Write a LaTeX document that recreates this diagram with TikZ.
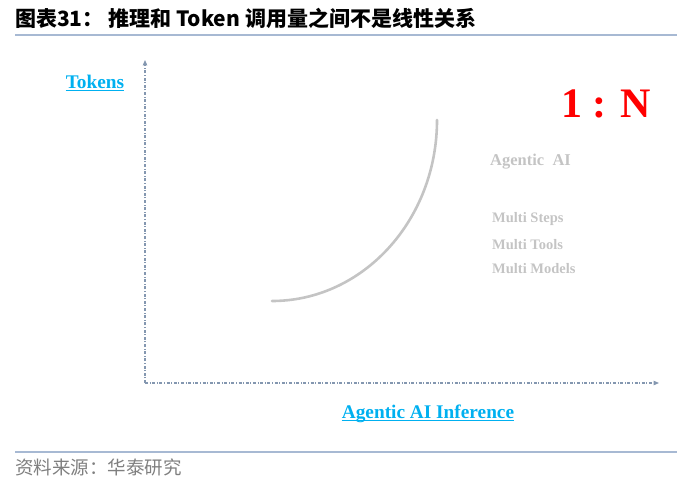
\documentclass[tikz,border=0pt]{standalone}
\usepackage{fontspec}
\setmainfont{Liberation Serif}
\newfontfamily\cjk{Noto Sans CJK SC}
\usepackage{xcolor}
\usetikzlibrary{arrows.meta}
\definecolor{rulebl}{HTML}{A7B9D3}
\definecolor{axisbl}{HTML}{8497B0}
\definecolor{labcyan}{HTML}{00B0F0}
\definecolor{softgray}{HTML}{C4C4C4}
\definecolor{srcgray}{HTML}{7F7F7F}
\tikzset{
  axisline/.style={axisbl,line width=1.1pt,dash pattern=on 3pt off 1.6pt on 1pt off 1.6pt,
    -{Triangle[width=4.5pt,length=5.5pt]}},
  axislabel/.style={font=\fontsize{19.3}{19}\selectfont\bfseries,text=labcyan},
  ulrule/.style={labcyan,line width=1pt},
  sidetext/.style={anchor=west,text=softgray,font=\fontsize{14.5}{15}\selectfont\bfseries}
}

\begin{document}
\begin{tikzpicture}[x=1pt,y=-1pt,every node/.style={inner sep=0pt}]
  \useasboundingbox (0,0) rectangle (700,486);
  % header and footer
  \node[anchor=west,font=\cjk\fontsize{21}{21}\selectfont\bfseries] (title) at (15,18)
    {图表31： 推理和 Token 调用量之间不是线性关系};
  \draw[rulebl,line width=2pt] (15,35) -- (677,35);
  \draw[rulebl,line width=1.2pt] (15,452) -- (677,452);
  \node[anchor=west,text=srcgray,font=\cjk\fontsize{18.5}{18}\selectfont] (source) at (15,467)
    {资料来源：华泰研究};
  % axes
  \coordinate (origin) at (145,383);
  \coordinate (ytop) at (145,60);
  \coordinate (xend) at (659,383);
  \draw[axisline] (origin) -- (ytop);
  \draw[axisline] (origin) -- (xend);
  \node[axislabel] (ylab) at (95,82) {Tokens};
  \node[axislabel] (xlab) at (428,414) {Agentic AI Inference};
  \draw[ulrule] ([yshift=-2.2pt]ylab.base west) -- ([yshift=-2.2pt]ylab.base east);
  \draw[ulrule] ([yshift=-2.2pt]xlab.base west) -- ([yshift=-2.2pt]xlab.base east);
  % curve
  \coordinate (cstart) at (272,301);
  \coordinate (cend) at (437,120);
  \draw[softgray,line width=2.6pt,line cap=round] (cstart) .. controls (363,301) and (437,220) .. (cend);
  % ratio and notes
  \node[text=red,font=\fontsize{42}{42}\selectfont\bfseries] (ratio) at (606,104) {1 : N};
  \node[sidetext,font=\fontsize{16.5}{17}\selectfont\bfseries] (agentic) at (490,162) {Agentic\ \ AI};
  \node[sidetext] (steps) at (492,219) {Multi Steps};
  \node[sidetext] (tools) at (492,245) {Multi Tools};
  \node[sidetext] (models) at (492,269) {Multi Models};
\end{tikzpicture}
\end{document}
